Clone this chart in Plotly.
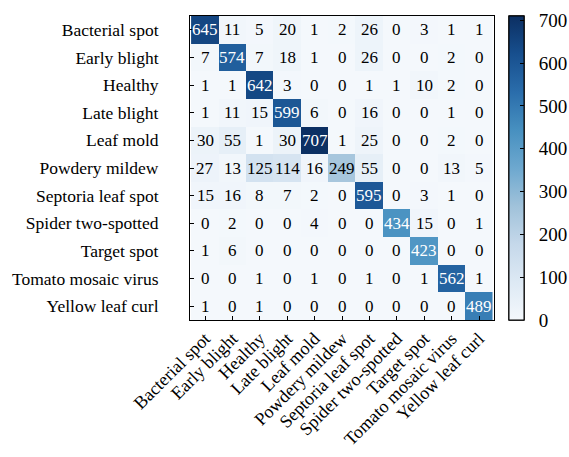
import plotly.graph_objects as go

labels = ["Bacterial spot", "Early blight", "Healthy", "Late blight", "Leaf mold",
          "Powdery mildew", "Septoria leaf spot", "Spider two-spotted", "Target spot",
          "Tomato mosaic virus", "Yellow leaf curl"]

matrix = [
    [645, 11, 5, 20, 1, 2, 26, 0, 3, 1, 1],
    [7, 574, 7, 18, 1, 0, 26, 0, 0, 2, 0],
    [1, 1, 642, 3, 0, 0, 1, 1, 10, 2, 0],
    [1, 11, 15, 599, 6, 0, 16, 0, 0, 1, 0],
    [30, 55, 1, 30, 707, 1, 25, 0, 0, 2, 0],
    [27, 13, 125, 114, 16, 249, 55, 0, 0, 13, 5],
    [15, 16, 8, 7, 2, 0, 595, 0, 3, 1, 0],
    [0, 2, 0, 0, 4, 0, 0, 434, 15, 0, 1],
    [1, 6, 0, 0, 0, 0, 0, 0, 423, 0, 0],
    [0, 0, 1, 0, 1, 0, 1, 0, 1, 562, 1],
    [1, 0, 1, 0, 0, 0, 0, 0, 0, 0, 489],
]

cbar_ticks = [0, 100, 200, 300, 400, 500, 600, 700]

blues = [[0.0, "#f4f8fc"], [0.125, "#dde9f4"], [0.25, "#c5d8ea"], [0.375, "#a0c2da"],
         [0.5, "#6da8cf"], [0.625, "#4790c0"], [0.75, "#2a6dab"], [0.875, "#174f8e"],
         [1.0, "#0c2f62"]]

FONT = "Liberation Serif, Times New Roman, serif"

cb_common = dict(x=1.049, xanchor="left", y=0.5, yanchor="middle", len=1.0, lenmode="fraction",
                 thickness=15, thicknessmode="pixels", outlinecolor="black", outlinewidth=1,
                 tickvals=cbar_ticks, xpad=0, ypad=0)

# base trace: colorbar with inside tick marks, no labels
fig = go.Figure(go.Heatmap(
    z=matrix, x=labels, y=labels, colorscale=blues, zmin=0, zmax=710,
    colorbar=dict(**cb_common, ticks="inside", ticklen=4, tickcolor="black", showticklabels=False),
))
# identical overlay trace: supplies the colorbar labels with a gap
fig.add_trace(go.Heatmap(
    z=matrix, x=labels, y=labels, colorscale=blues, zmin=0, zmax=710,
    colorbar=dict(**cb_common, ticks="outside", ticklen=11, tickcolor="rgba(0,0,0,0)",
                  tickfont=dict(family=FONT, size=19, color="black")),
))
# redraw inside tick marks on top
fig.add_trace(go.Heatmap(
    z=matrix, x=labels, y=labels, colorscale=blues, zmin=0, zmax=710, opacity=0,
    colorbar=dict(**cb_common, ticks="inside", ticklen=4, tickcolor="black", showticklabels=False,
                  bgcolor="rgba(0,0,0,0)"),
))

annotations = []
for i, row in enumerate(matrix):
    for j, v in enumerate(row):
        annotations.append(dict(
            x=labels[j], y=labels[i], text=str(v), showarrow=False,
            font=dict(family=FONT, size=17, color="white" if v > 350 else "black"),
        ))

fig.update_xaxes(tickangle=-45, ticks="inside", ticklen=4, tickcolor="black",
                 showline=True, linecolor="black", linewidth=1, mirror=True,
                 tickfont=dict(family=FONT, size=18, color="black"), showgrid=False)
fig.update_yaxes(autorange="reversed", ticks="inside", ticklen=4, tickcolor="black",
                 showline=True, linecolor="black", linewidth=1, mirror=True,
                 tickfont=dict(family=FONT, size=17.5, color="black"), showgrid=False,
                 ticklabelstandoff=27)

fig.update_layout(
    width=569, height=457,
    margin=dict(l=190, r=75, t=16, b=137, autoexpand=False),
    paper_bgcolor="white", plot_bgcolor="white",
    font=dict(family=FONT, color="black"),
    annotations=annotations,
)

fig.write_html(
    "out.html",
    config={"displayModeBar": False},
    post_script="document.body.style.margin='0';document.documentElement.style.overflow='hidden';document.body.style.overflow='hidden';",
)
